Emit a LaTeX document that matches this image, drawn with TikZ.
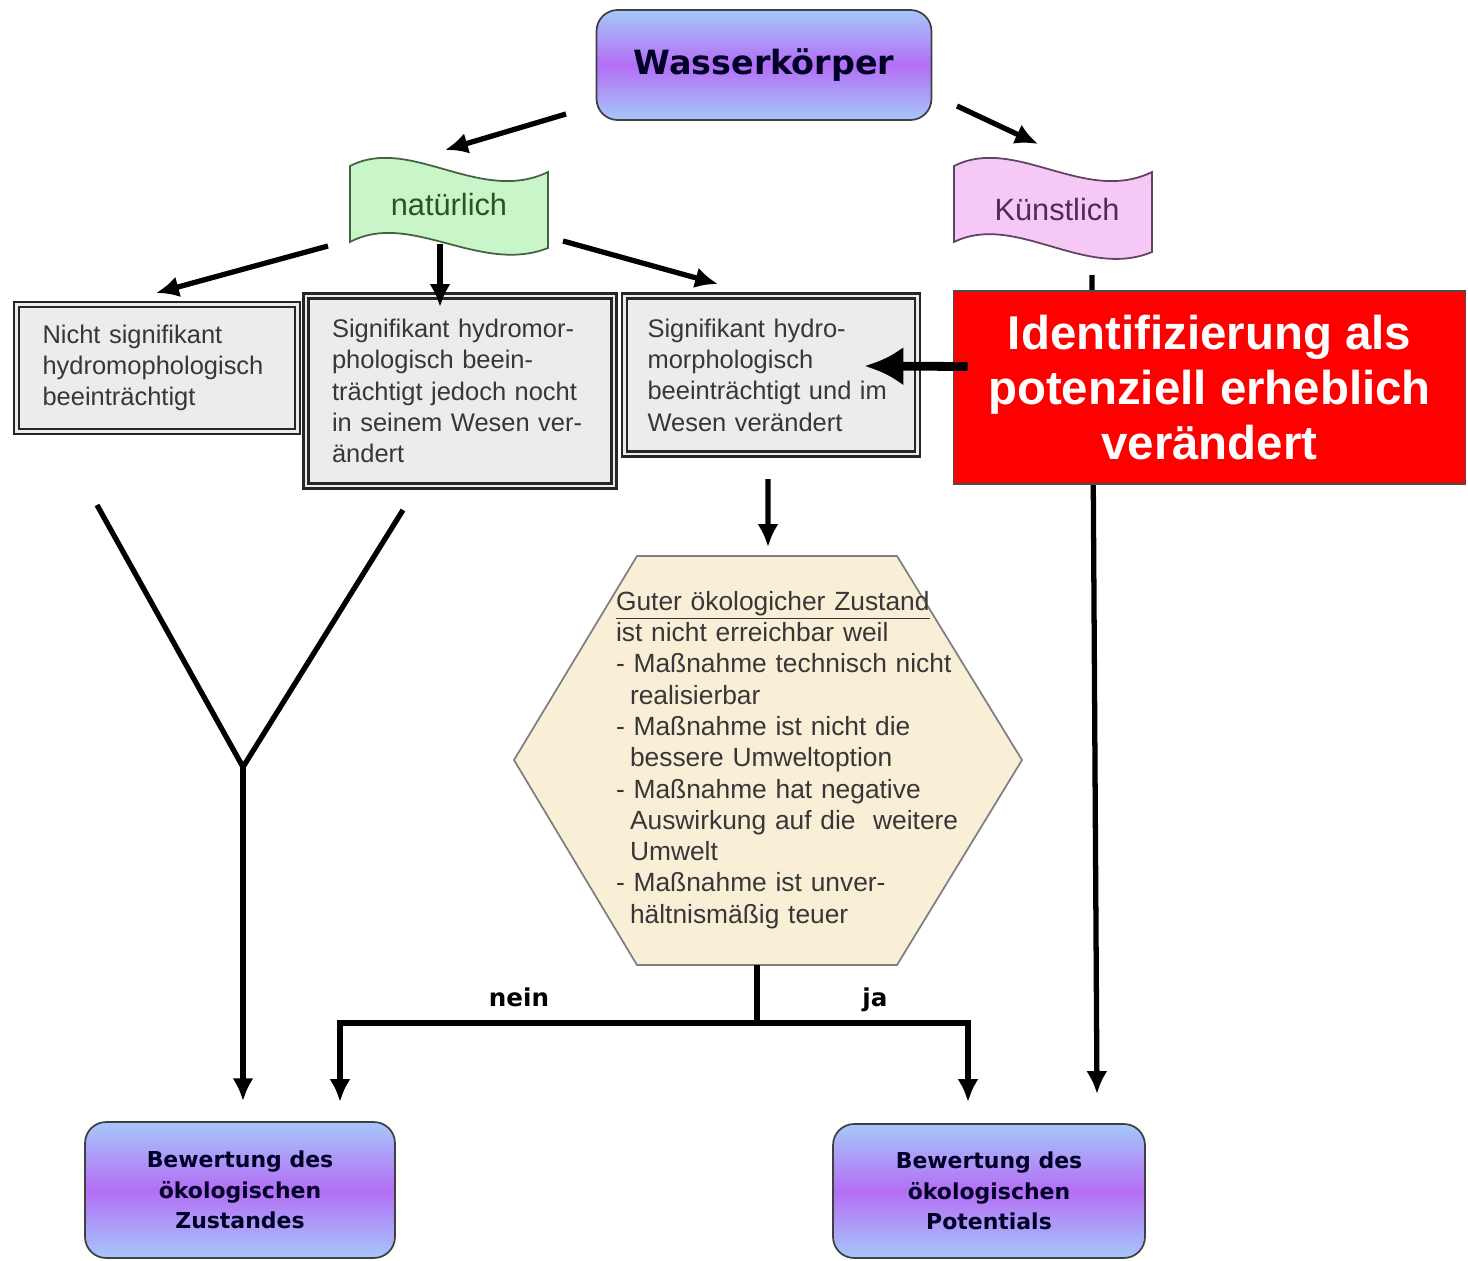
\documentclass[tikz,border=0pt]{standalone}
\usepackage{fontspec}
\setmainfont{Liberation Sans}
\newfontfamily\heavyfont{DejaVu Sans}
\usetikzlibrary{arrows.meta}
\usetikzlibrary{calc}
\usetikzlibrary{positioning}

\definecolor{boxgray}{RGB}{236,236,236}
\definecolor{textgray}{RGB}{55,55,55}
\definecolor{natgreen}{RGB}{200,246,200}
\definecolor{natdark}{RGB}{40,85,40}
\definecolor{kuepink}{RGB}{246,200,246}
\definecolor{kuedark}{RGB}{85,40,85}
\definecolor{hexbeige}{RGB}{249,238,214}
\definecolor{gradblue}{RGB}{165,200,250}
\definecolor{gradviolet}{RGB}{180,110,245}
\definecolor{identred}{RGB}{255,0,0}

\begin{document}
\begin{tikzpicture}
	 [x=0.02cm, y=-0.02cm,
	> = {Latex[length=13pt,width=12pt]},
	every node/.style={font=\fontsize{15}{17.8}\selectfont},
	arr/.style = {->, line width=3pt},
	line/.style = {line width=3pt},
	gradbox/.style = {draw=black!75, line width=1pt, rounded corners=12pt, top color=gradblue, bottom color=gradblue, middle color=gradviolet, align=center, text=black!85!blue, font=\heavyfont\bfseries\fontsize{12.5}{17.3}\selectfont},
	grbox/.style = {draw=black!85, line width=1.4pt, double=white!85!gray, double distance=1.6pt, fill=boxgray, align=left, text=textgray, font=\fontsize{14.5}{17.8}\selectfont},
	flag/.style = {line width=1pt}
	]
	\useasboundingbox (0,0) rectangle (1468,1261);

	% Kopf
	\node[gradbox, minimum width=6.7cm, minimum height=2.2cm, font=\heavyfont\bfseries\fontsize{19}{22}\selectfont] (wk) at (764,65) {Wasserkörper};

	\draw[flag, draw=natdark!70!gray, fill=natgreen] (350,166) .. controls (410,135) and (480,205) .. (548,172) -- (548,248) .. controls (480,275) and (410,210) .. (350,242) -- cycle;
	\node[text=natdark, font=\fontsize{17.5}{20}\selectfont] (nat) at (449,205) {natürlich};

	\draw[flag, draw=kuedark!70!gray, fill=kuepink] (954,166) .. controls (1015,135) and (1085,205) .. (1152,172) -- (1152,252) .. controls (1085,280) and (1015,212) .. (954,242) -- cycle;
	\node[text=kuedark, font=\fontsize{17.5}{20}\selectfont] (kue) at (1057,210) {Künstlich};

	% Kategorien
	\node[grbox, text width=4.58cm, inner xsep=0.52cm, minimum height=2.54cm] (nsig) at (157,368) {Nicht signifikant\\hydromophologisch\\beeinträchtigt};
	\node[grbox, text width=5.12cm, inner xsep=0.52cm, minimum height=3.8cm] (sigv) at (460,391) {Signifikant hydromor-\\phologisch beein-\\trächtigt jedoch nocht\\in seinem Wesen ver-\\ändert};
	\node[grbox, text width=4.94cm, inner xsep=0.46cm, minimum height=3.16cm] (sigw) at (771,375) {Signifikant hydro-\\morphologisch\\beeinträchtigt und im\\Wesen verändert};

	\coordinate (a) at (566,114);
	\coordinate (b) at (445,150);
	\coordinate (c) at (957,106);
	\coordinate (d) at (1038,144);
	\coordinate (e) at (328,246);
	\coordinate (f) at (156,293);
	\coordinate (g) at (440,244);
	\coordinate (h) at (440,307);
	\coordinate (i) at (563,241);
	\coordinate (j) at (718,284);
	\coordinate (k) at (1092,275);
	\coordinate (l) at (1097,1094);

	\draw[arr] (a) -- (b);
	\draw[arr] (c) -- (d);
	\draw[arr] (e) -- (f);
	\draw[arr] (g) -- (h);
	\draw[arr] (i) -- (j);
	\draw[arr] (k) -- (l);

	\node[draw=black!70, line width=0.6pt, fill=identred, text=white, align=center, minimum width=10.26cm, minimum height=3.86cm, font=\bfseries\fontsize{27}{31.5}\selectfont] (ident) at (1209.5,387.5) {Identifizierung als\\potenziell erheblich\\verändert};
	\draw[->, line width=5pt, >={Latex[length=22pt,width=22pt]}] ($(ident.west)+(15,-21)$) -- ($(sigw.east)+(-54,-9)$);

	% Kriterien
	\coordinate (h1) at (637,556);
	\coordinate (h2) at (897,556);
	\coordinate (h3) at (1022,760);
	\coordinate (h4) at (897,965);
	\coordinate (h5) at (637,965);
	\coordinate (h6) at (514,760);
	\draw[draw=gray, line width=1pt, fill=hexbeige] (h1) -- (h2) -- (h3) -- (h4) -- (h5) -- (h6) -- cycle;
	\node[text=textgray, text width=7cm, align=left, inner sep=0pt] (crit) at (791,760) {\underline{Guter ökologicher Zustand}\\ist nicht erreichbar weil\\- Maßnahme technisch nicht\\\hspace*{0.28cm}realisierbar\\- Maßnahme ist nicht die\\\hspace*{0.28cm}bessere Umweltoption\\- Maßnahme hat negative\\\hspace*{0.28cm}Auswirkung auf die\ \ weitere\\\hspace*{0.28cm}Umwelt\\- Maßnahme ist unver-\\\hspace*{0.28cm}hältnismäßig teuer};
	\draw[arr] ($(sigw.south)+(-3,24)$) -- ($(h1)!0.5!(h2)+(1,-9)$);

	% Bewertung
	\node[gradbox, minimum width=6.2cm, minimum height=2.72cm] (bewz) at (240,1190) {Bewertung des\\ökologischen\\Zustandes};
	\node[gradbox, minimum width=6.24cm, minimum height=2.68cm] (bewp) at (989,1191) {Bewertung des\\ökologischen\\Potentials};

	\coordinate (y1) at (97,505);
	\coordinate (y2) at (403,510);
	\coordinate (y0) at (243,767);
	\draw[line] (y1) -- (y0) -- (y2);
	\draw[arr] (y0) -- ($(bewz.north)+(3,-20)$);

	\coordinate (s0) at (757,965);
	\coordinate (s1) at (757,1023);
	\coordinate (sl) at (340,1023);
	\coordinate (sr) at (968,1023);
	\draw[line] (s0) -- (s1);
	\draw[line, line cap=rect] (sl) -- (sr);
	\draw[arr] (sl) -- (340,1102);
	\draw[arr] (sr) -- (968,1102);
	\node[font=\heavyfont\bfseries\fontsize{14}{16}\selectfont] (nein) at (519,997) {nein};
	\node[font=\heavyfont\bfseries\fontsize{14}{16}\selectfont] (ja) at (875,1000) {ja};
\end{tikzpicture}
\end{document}
